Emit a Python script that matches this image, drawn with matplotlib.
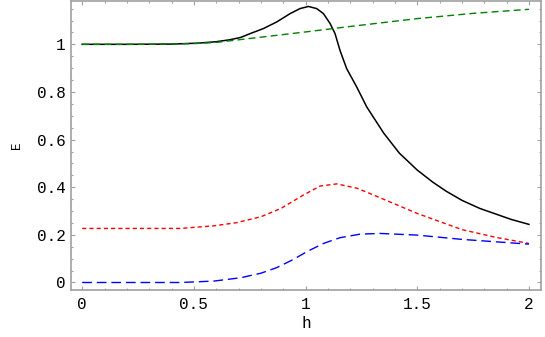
import matplotlib
matplotlib.use("Agg")
from matplotlib import pyplot as plt
from matplotlib.ticker import MultipleLocator

plt.rcParams['font.family'] = ['Liberation Mono', 'DejaVu Sans Mono']

# values
h_black = [0, 0.2, 0.4, 0.52, 0.6, 0.66, 0.71, 0.752, 0.811, 0.871, 0.931, 0.975, 1.013,
           1.05, 1.08, 1.11, 1.132, 1.154, 1.184, 1.229, 1.274, 1.35, 1.42, 1.5,
           1.57, 1.63, 1.7, 1.78, 1.85, 1.92, 2.0]
E_black = [1.0, 1.0, 1.001, 1.005, 1.011, 1.019, 1.029, 1.045, 1.066, 1.094, 1.129, 1.150,
           1.159, 1.150, 1.129, 1.087, 1.045, 0.975, 0.898, 0.821, 0.737, 0.627, 0.543,
           0.472, 0.421, 0.383, 0.345, 0.311, 0.288, 0.265, 0.244]

h_green = [0, 0.3, 0.5, 0.6, 0.7, 0.8, 0.9, 1.0, 1.2, 1.5, 1.75, 2.0]
E_green = [1.0, 1.0, 1.003, 1.008, 1.019, 1.03, 1.041, 1.052, 1.075, 1.108, 1.13, 1.147]

h_red = [0, 0.44, 0.59, 0.69, 0.8, 0.89, 0.99, 1.065, 1.14, 1.23, 1.333, 1.5, 1.7, 1.85, 2.0]
E_red = [0.227, 0.227, 0.238, 0.251, 0.276, 0.311, 0.367, 0.405, 0.414, 0.396, 0.356,
         0.29, 0.222, 0.19, 0.164]

h_blue = [0, 0.44, 0.59, 0.71, 0.8, 0.87, 0.946, 1.005, 1.08, 1.154, 1.244, 1.333,
          1.5, 1.7, 1.85, 2.0]
E_blue = [0.0, 0.0, 0.006, 0.02, 0.039, 0.062, 0.097, 0.129, 0.164, 0.188, 0.203, 0.206,
          0.199, 0.181, 0.171, 0.161]

fig = plt.figure(figsize=(5.45, 3.37), dpi=100)
ax = fig.add_axes([71 / 545, 1 - 290 / 337, 470 / 545, 289.5 / 337])

ax.plot(h_black, E_black, color="black", lw=1.1)
ax.plot(h_green, E_green, color="#008000", lw=1.0, dashes=(5, 3))
ax.plot(h_red, E_red, color="#ff0000", lw=1.0, dashes=(3, 2.2))
ax.plot(h_blue, E_blue, color="#0000ff", lw=1.0, dashes=(7, 3.5))

ax.set_xlim(-0.05, 2.054)
ax.set_ylim(-0.0315, 1.184)

ax.xaxis.set_minor_locator(MultipleLocator(0.1))
ax.yaxis.set_minor_locator(MultipleLocator(0.05))

ax.set_xticks([0, 0.5, 1, 1.5, 2])
ax.set_xticklabels(["0", "0.5", "1", "1.5", "2"])
ax.set_yticks([0, 0.2, 0.4, 0.6, 0.8, 1.0])
ax.set_yticklabels(["0", "0.2", "0.4", "0.6", "0.8", "1"])

for s in ax.spines.values():
    s.set_color("#a0a0a0")
    s.set_linewidth(1.2)

ax.tick_params(which="both", direction="in", top=True, right=True, colors="#a0a0a0",
               labelcolor="black", labelsize=11.5, width=0.8)
ax.tick_params(which="major", length=3.0)
ax.tick_params(which="minor", length=1.6)
ax.tick_params(axis="y", pad=4)
ax.tick_params(axis="x", pad=5)

ax.set_xlabel("h", fontsize=11.5, labelpad=3)
ax.set_ylabel("E", fontsize=9, labelpad=10)

fig.savefig("out.png", dpi=100)
